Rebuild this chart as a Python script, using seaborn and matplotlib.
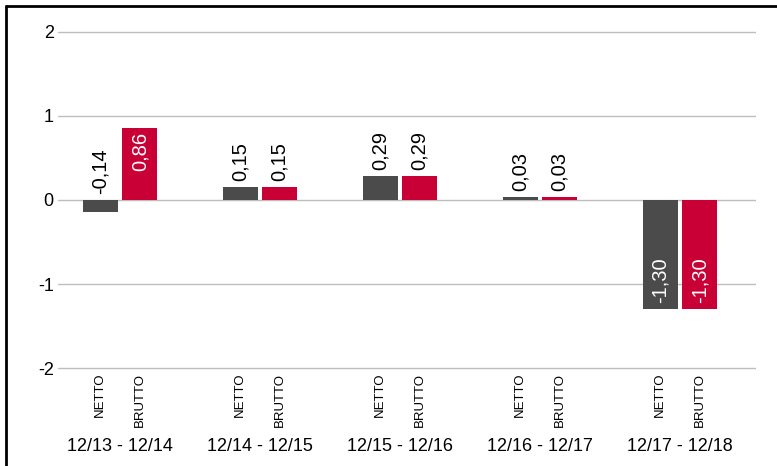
import matplotlib.pyplot as plt
import pandas as pd
import seaborn as sns
from matplotlib.lines import Line2D

periods = ["12/13 - 12/14", "12/14 - 12/15", "12/15 - 12/16", "12/16 - 12/17", "12/17 - 12/18"]
kinds = ["NETTO", "BRUTTO"]
netto = [-0.14, 0.15, 0.29, 0.03, -1.30]
brutto = [0.86, 0.15, 0.29, 0.03, -1.30]
y_ticks = [-2, -1, 0, 1, 2]

df = pd.DataFrame({
    "period": periods * 2,
    "kind": ["NETTO"] * len(periods) + ["BRUTTO"] * len(periods),
    "value": netto + brutto,
})

sns.set_theme(style="white")
plt.rcParams["font.family"] = ["Liberation Sans", "DejaVu Sans"]

fig = plt.figure(figsize=(7.77, 4.66), dpi=100)
ax = fig.add_axes([58 / 777, 1 - 369.7 / 466, 698 / 777, 339.4 / 466])

palette = {"NETTO": "#4b4b4b", "BRUTTO": "#c80036"}
sns.barplot(data=df, x="period", y="value", hue="kind", hue_order=kinds,
            palette=palette, width=0.564, gap=0.1135, saturation=1,
            linewidth=0, legend=False, ax=ax, zorder=3)

ax.set_xlim(-0.443, 4.543)
ax.set_ylim(-2.02, 2.02)
ax.set_yticks(y_ticks)
ax.set_yticklabels([str(t) for t in y_ticks], fontsize=13, color="black")
ax.tick_params(axis="y", length=0, pad=3)
ax.set_xticks([])
ax.set_xlabel("")
ax.set_ylabel("")
ax.yaxis.grid(True, color="#bdbdbd", linewidth=1, zorder=0)
for s in ax.spines.values():
    s.set_visible(False)

# value labels and NETTO / BRUTTO labels under each bar
values = netto + brutto
for i, p in enumerate(ax.patches):
    kind = kinds[i // len(periods)]
    val = values[i]
    xc = p.get_x() + p.get_width() / 2
    txt = f"{val:.2f}".replace(".", ",")
    if val > 0.5:
        ax.annotate(txt, (xc, val), xytext=(0, -4), textcoords="offset pixels",
                    rotation=90, ha="center", va="top", color="white", fontsize=14.5)
    elif val < -0.5:
        ax.annotate(txt, (xc, val), xytext=(0, 6), textcoords="offset pixels",
                    rotation=90, ha="center", va="bottom", color="white", fontsize=14.5)
    else:
        ax.annotate(txt, (xc, max(val, 0)), xytext=(0, 6), textcoords="offset pixels",
                    rotation=90, ha="center", va="bottom", color="black", fontsize=14.5)
    ax.annotate(kind, (xc, 0), xycoords=("data", "axes fraction"),
                xytext=(0, -3), textcoords="offset pixels",
                rotation=90, ha="center", va="top", fontsize=9.5, color="black")

for j, period in enumerate(periods):
    ax.annotate(period, (j, 0), xycoords=("data", "axes fraction"),
                xytext=(0, -77), textcoords="offset pixels",
                ha="center", va="center", fontsize=13, color="black")

# frame on top and left of the picture
fig.add_artist(Line2D([6 / 777, 1], [1 - 6 / 466, 1 - 6 / 466], color="black", linewidth=2))
fig.add_artist(Line2D([6 / 777, 6 / 777], [0, 1 - 6 / 466], color="black", linewidth=2))

fig.savefig("out.png", dpi=100)
plt.close()
